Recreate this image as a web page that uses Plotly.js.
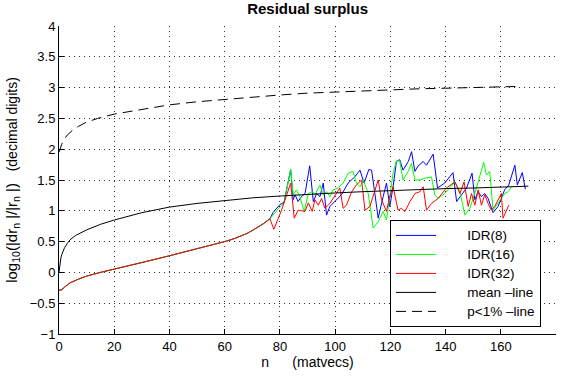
<!DOCTYPE html>
<html>
<head>
<meta charset="utf-8">
<script src="https://cdn.plot.ly/plotly-3.0.1.min.js"></script>
<style>
  html, body { margin: 0; padding: 0; background: #fff; }
  #plot { width: 566px; height: 378px; }
</style>
</head>
<body>
<div id="plot"></div>
<script>
// Common smooth start shared by all three IDR runs (they coincide up to ~76 matvecs)
const xStart = [0, 1, 2, 4, 7, 10, 15, 20, 30, 40, 50, 55, 60, 63, 66, 68, 70, 72, 74, 76.4];
const yStart = [-0.29, -0.28, -0.24, -0.17, -0.11, -0.06, 0.0, 0.05, 0.16, 0.27, 0.38, 0.44, 0.50, 0.54, 0.59, 0.63, 0.68, 0.73, 0.79, 0.87];

// IDR(8)
const xIdr8 = [77.5, 80.0, 81.5, 83.9, 84.8, 85.5, 86.6, 87.8, 89.1, 90.8, 92.1, 93.3, 94.5, 95.7, 96.9, 98.1, 100.0, 102.3, 104.7, 107.1,
  109.0, 110.5, 112.2, 113.2, 114.4, 115.6, 117.4, 118.6, 119.8, 121.0, 122.2, 123.4, 124.6, 126.5, 127.7, 128.9, 130.1, 131.9, 133.1, 135.5,
  137.1, 139.7, 142.7, 144.0, 145.8, 147.6, 149.6, 150.6, 151.8, 153.0, 154.2, 155.4, 157.2, 159.0, 161.4, 162.9, 165.1, 166.0, 167.8, 168.9];
const yIdr8 = [0.97, 1.10, 1.14, 1.67, 1.18, 1.26, 1.15, 1.23, 1.28, 1.73, 1.15, 1.28, 1.23, 1.45, 0.93, 1.07, 1.15, 1.26, 1.45, 1.55,
  1.66, 1.45, 1.67, 1.66, 1.28, 0.88, 1.23, 1.45, 1.07, 1.39, 1.80, 1.83, 1.66, 1.80, 1.96, 1.64, 1.73, 1.80, 1.74, 1.92,
  1.37, 1.45, 1.62, 1.15, 1.26, 1.37, 1.61, 1.18, 1.31, 1.23, 1.28, 1.20, 0.97, 1.07, 1.34, 1.42, 1.74, 1.42, 1.62, 1.35];

// IDR(16)
const xIdr16 = [77.5, 80.0, 81.5, 83.9, 84.8, 86.0, 87.2, 88.8, 90.3, 91.7, 92.7, 94.5, 95.7, 96.9, 98.1, 99.3, 101.1, 102.9, 104.7, 106.5,
  107.7, 109.0, 110.2, 112.0, 113.8, 115.6, 117.4, 118.6, 119.8, 121.0, 122.2, 123.4, 124.6, 126.5, 127.7, 128.9, 130.7, 132.5, 134.9, 136.1,
  137.3, 139.7, 143.4, 145.2, 147.0, 148.8, 151.2, 153.8, 154.8, 156.0, 157.2, 159.0, 161.4, 162.7, 163.9];
const yIdr16 = [0.93, 1.06, 1.12, 1.67, 1.26, 1.34, 1.23, 0.99, 1.28, 1.31, 1.26, 1.42, 1.26, 1.31, 1.23, 1.34, 1.37, 1.45, 1.61, 1.64,
  1.45, 1.39, 1.50, 1.28, 0.72, 0.82, 0.99, 0.85, 1.23, 1.61, 1.81, 1.81, 1.50, 1.64, 1.77, 1.50, 1.50, 1.53, 1.55, 1.26,
  1.20, 1.28, 1.47, 1.31, 0.93, 1.04, 1.37, 1.79, 1.58, 1.64, 1.01, 1.12, 1.28, 1.31, 1.39];

// IDR(32)
const xIdr32 = [77.8, 80.6, 83.9, 85.2, 86.6, 89.1, 90.3, 91.7, 92.7, 93.9, 95.1, 96.3, 98.1, 99.3, 100.5, 101.7, 102.9, 104.1, 105.9, 107.7,
  109.6, 110.8, 112.6, 114.4, 115.6, 116.8, 118.6, 119.8, 121.0, 122.8, 124.0, 125.3, 127.1, 128.9, 130.7, 131.9, 133.1, 134.9, 137.3, 140.3,
  143.4, 145.2, 146.7, 148.2, 149.4, 150.6, 151.8, 153.0, 154.2, 155.4, 156.6, 157.8, 159.0, 160.2, 160.8, 162.0, 162.9];
const yIdr32 = [0.70, 1.01, 1.45, 0.88, 1.01, 0.99, 1.13, 0.99, 1.18, 1.09, 1.20, 1.04, 1.12, 1.20, 1.28, 1.37, 1.04, 1.09, 1.30, 1.42,
  1.50, 1.01, 1.07, 1.31, 1.50, 1.18, 0.99, 1.23, 1.39, 1.01, 1.04, 0.99, 1.15, 1.28, 1.31, 1.39, 1.01, 1.12, 1.20, 1.37,
  1.47, 1.28, 1.47, 1.07, 1.28, 1.09, 1.34, 1.09, 1.26, 1.12, 1.01, 1.07, 1.18, 1.28, 0.88, 1.01, 1.09];

// Mean line
const xMean = [0, 0.3, 0.7, 1, 1.5, 2, 3, 4, 6, 8, 10, 15, 20, 30, 40, 50, 60, 70, 80, 90, 100, 110, 120, 130, 140, 150, 160, 170];
const yMean = [0.0, 0.14, 0.24, 0.29, 0.35, 0.40, 0.47, 0.53, 0.60, 0.65, 0.69, 0.78, 0.85, 0.97, 1.06, 1.12, 1.17, 1.21, 1.24, 1.27, 1.29, 1.31, 1.33, 1.35, 1.36, 1.37, 1.38, 1.40];

// p<1% line
const xP1 = [0, 0.5, 1, 2, 3, 5, 7, 10, 14, 20, 30, 40, 50, 60, 70, 80, 90, 100, 110, 120, 130, 140, 150, 160, 167];
const yP1 = [1.95, 2.02, 2.08, 2.17, 2.23, 2.31, 2.37, 2.44, 2.50, 2.57, 2.65, 2.72, 2.77, 2.81, 2.85, 2.88, 2.91, 2.93, 2.95, 2.97, 2.98, 2.99, 3.00, 3.01, 3.02];

const seriesNames = ['IDR(8)', 'IDR(16)', 'IDR(32)', 'mean \u2013line', 'p<1% \u2013line'];

const FONT = 'Liberation Sans, Arial, Helvetica, sans-serif';
const pad = '\u00a0\u00a0\u00a0\u00a0\u00a0\u00a0\u00a0';

// legend labels are set larger while the entry spacing follows a smaller base font
function legendLabel(name) {
  return '<span style="font-size:13.5px">' + pad + name + '</span>';
}

function idrTrace(xs, ys, name, color) {
  return {
    x: xStart.concat(xs), y: yStart.concat(ys), name: legendLabel(name),
    type: 'scatter', mode: 'lines',
    line: { color: color, width: 1 }
  };
}

const traces = [
  idrTrace(xIdr8, yIdr8, seriesNames[0], '#0000ff'),
  idrTrace(xIdr16, yIdr16, seriesNames[1], '#00ff00'),
  idrTrace(xIdr32, yIdr32, seriesNames[2], '#ff0000'),
  { x: xMean, y: yMean, name: legendLabel(seriesNames[3]), type: 'scatter', mode: 'lines',
    line: { color: '#000', width: 1 } },
  { x: xP1, y: yP1, name: legendLabel(seriesNames[4]), type: 'scatter', mode: 'lines',
    line: { color: '#000', width: 1, dash: '10px,6px' } }
];

const axisCommon = {
  showline: true, linecolor: '#000', linewidth: 1, mirror: false,
  ticks: 'inside', ticklen: 5, tickcolor: '#000', tickwidth: 1,
  showgrid: true, gridcolor: '#333', gridwidth: 1, griddash: '1px,4px',
  zeroline: false,
  tickfont: { family: FONT, size: 13, color: '#000' }
};

const layout = {
  width: 566, height: 378,
  margin: { l: 59, r: 10, t: 26, b: 44 },
  paper_bgcolor: '#fff', plot_bgcolor: '#fff',
  font: { family: FONT, color: '#000' },
  title: {
    text: '<b>Residual surplus</b>',
    font: { family: FONT, size: 15, color: '#000' },
    x: 0.5435, xanchor: 'center', y: 0.99, yanchor: 'top'
  },
  xaxis: Object.assign({}, axisCommon, {
    range: [0, 180], dtick: 20, tick0: 0,
    title: { text: 'n\u00a0\u00a0\u00a0\u00a0\u00a0\u00a0(matvecs)', font: { family: FONT, size: 14, color: '#000' }, standoff: 3 }
  }),
  yaxis: Object.assign({}, axisCommon, {
    range: [-1, 4], dtick: 0.5, tick0: -1,
    title: { text: '<span style="font-size:15px">log<sub>10</sub>(|dr<sub>n</sub>\u00a0|/|r<sub>n</sub>\u00a0|)</span>\u00a0\u00a0\u00a0(decimal digits)',
      font: { family: FONT, size: 14, color: '#000' }, standoff: 8 }
  }),
  showlegend: true,
  legend: {
    x: 0.666, y: 0.023, xanchor: 'left', yanchor: 'bottom',
    bgcolor: '#fff', bordercolor: '#000', borderwidth: 1,
    font: { family: FONT, size: 12, color: '#000' },
    traceorder: 'normal', itemwidth: 40, tracegroupgap: 0
  }
};

Plotly.newPlot('plot', traces, layout, { staticPlot: true, displayModeBar: false });
</script>
</body>
</html>
